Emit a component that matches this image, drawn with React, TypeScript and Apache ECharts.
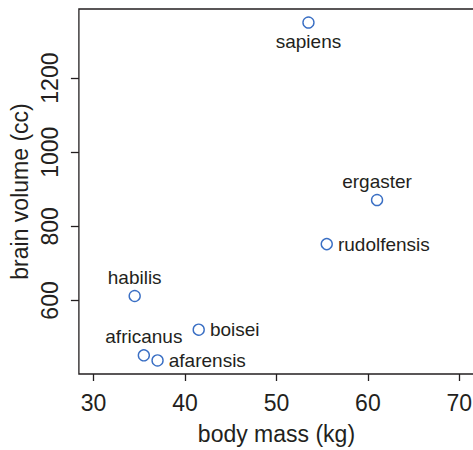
import React, { useEffect, useRef } from "react";
import * as echarts from "echarts";

const species = ["afarensis", "africanus", "habilis", "boisei", "rudolfensis", "ergaster", "sapiens"];
const bodyMass = [37.0, 35.5, 34.5, 41.5, 55.5, 61.0, 53.5];
const brainVolume = [438, 452, 612, 521, 752, 871, 1350];
const labelSide = ["right", "top", "top", "right", "right", "top", "bottom"];
const xTicks = [30, 40, 50, 60, 70];
const yTicks = [600, 800, 1000, 1200];

const FONT = "'Liberation Sans', Arial, Helvetica, sans-serif";
const TEXT = "#231f20";

export default function App() {
  const ref = useRef<HTMLDivElement>(null);
  useEffect(() => {
    if (!ref.current) return;
    const chart = echarts.init(ref.current, null, { renderer: "svg" });
    const data = species.map((s, i) => ({
      value: [bodyMass[i], brainVolume[i]],
      name: s,
      label: {
        position: labelSide[i],
        distance: labelSide[i] === "right" ? 5 : 3,
      },
    }));
    chart.setOption({
      animation: false,
      backgroundColor: "#ffffff",
      grid: {
        left: 76,
        top: 9,
        width: 398,
        height: 369,
        show: true,
        borderColor: "#231f20",
        borderWidth: 1.3,
        containLabel: false,
      },
      xAxis: {
        type: "value",
        min: 28.4,
        max: 71.6,
        name: "body mass (kg)",
        nameLocation: "middle",
        nameGap: 48,
        nameTextStyle: { fontFamily: FONT, fontSize: 23, color: TEXT },
        axisLine: { show: false },
        axisTick: { show: true, length: 7, customValues: xTicks, lineStyle: { color: TEXT, width: 1.3 } },
        axisLabel: {
          customValues: xTicks,
          formatter: (v: number) => String(v),
          fontFamily: FONT,
          fontSize: 23,
          color: TEXT,
          margin: 17,
        },
        splitLine: { show: false },
      },
      yAxis: {
        type: "value",
        min: 401.5,
        max: 1386.5,
        name: "brain volume (cc)",
        nameLocation: "middle",
        nameRotate: 90,
        nameGap: 45,
        nameTextStyle: { fontFamily: FONT, fontSize: 23, color: TEXT },
        axisLine: { show: false },
        axisTick: { show: true, length: 8, customValues: yTicks, lineStyle: { color: TEXT, width: 1.3 } },
        axisLabel: {
          customValues: yTicks,
          formatter: (v: number) => String(v),
          rotate: 90,
          fontFamily: FONT,
          fontSize: 23,
          color: TEXT,
          margin: 17,
        },
        splitLine: { show: false },
      },
      series: [
        {
          type: "scatter",
          data,
          symbol: "circle",
          symbolSize: 11,
          itemStyle: { color: "rgba(0,0,0,0)", borderColor: "#3a6fc4", borderWidth: 1.4, opacity: 1 },
          label: {
            show: true,
            formatter: (p: any) => p.name,
            fontFamily: FONT,
            fontSize: 19,
            color: TEXT,
          },
          emphasis: { disabled: true },
        },
      ],
    });
    return () => chart.dispose();
  }, []);
  return (
    <div style={{ position: "fixed", left: 0, top: 0, width: 473, height: 450, overflow: "hidden", background: "#fff" }}>
      <div ref={ref} style={{ width: 480, height: 450 }} />
    </div>
  );
}
